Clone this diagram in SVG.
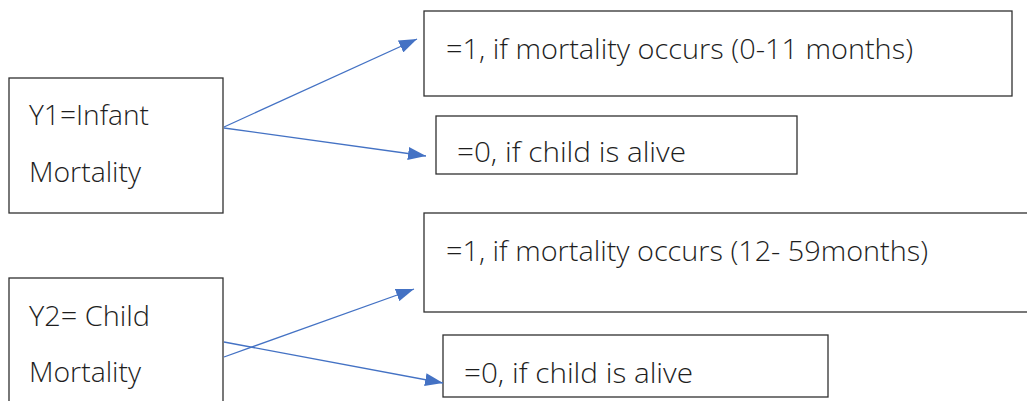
<svg xmlns="http://www.w3.org/2000/svg" width="1027" height="401" viewBox="0 0 1027 401">
<style>
.box{fill:#ffffff;stroke:#303030;stroke-width:1.3}
.t{font-family:"Open Sans","Noto Sans","Liberation Sans",sans-serif;font-size:27px;font-weight:300;fill:#1e1e1e}
.c{fill:none;stroke:#4472C4;stroke-width:1.3}
</style>
<defs>
<marker id="ah" viewBox="0 0 18 13" refX="18" refY="6.5" markerWidth="18" markerHeight="13" markerUnits="userSpaceOnUse" orient="auto">
<path d="M0,0 L18,6.5 L0,13 z" fill="#4472C4"/>
</marker>
</defs>
<rect width="1027" height="401" fill="#ffffff"/>
<g id="y1">
<rect class="box" x="9" y="78" width="214" height="135"/>
<text class="t" x="29" y="125" textLength="120" lengthAdjust="spacingAndGlyphs">Y1=Infant</text>
<text class="t" x="29" y="182" textLength="112" lengthAdjust="spacingAndGlyphs">Mortality</text>
</g>
<g id="y2">
<rect class="box" x="9" y="278" width="214" height="135"/>
<text class="t" x="29" y="326" textLength="121" lengthAdjust="spacingAndGlyphs">Y2= Child</text>
<text class="t" x="29" y="382" textLength="112" lengthAdjust="spacingAndGlyphs">Mortality</text>
</g>
<g id="y1-one">
<rect class="box" x="424" y="11" width="588" height="85"/>
<text class="t" x="446" y="59" textLength="467" lengthAdjust="spacingAndGlyphs">=1, if mortality occurs (0-11 months)</text>
</g>
<g id="y1-zero">
<rect class="box" x="436" y="116" width="361" height="58"/>
<text class="t" x="457" y="162" textLength="229" lengthAdjust="spacingAndGlyphs">=0, if child is alive</text>
</g>
<g id="y2-one">
<rect class="box" x="424" y="213" width="620" height="99"/>
<text class="t" x="446" y="261" textLength="482" lengthAdjust="spacingAndGlyphs">=1, if mortality occurs (12- 59months)</text>
</g>
<g id="y2-zero">
<rect class="box" x="443" y="335" width="385" height="62"/>
<text class="t" x="464" y="383" textLength="229" lengthAdjust="spacingAndGlyphs">=0, if child is alive</text>
</g>
<g id="connectors">
<line class="c" x1="224" y1="127" x2="417" y2="39" marker-end="url(#ah)"/>
<line class="c" x1="224" y1="128" x2="426" y2="156" marker-end="url(#ah)"/>
<line class="c" x1="224" y1="357" x2="414" y2="289" marker-end="url(#ah)"/>
<line class="c" x1="224" y1="342" x2="443" y2="383" marker-end="url(#ah)"/>
</g>
</svg>
